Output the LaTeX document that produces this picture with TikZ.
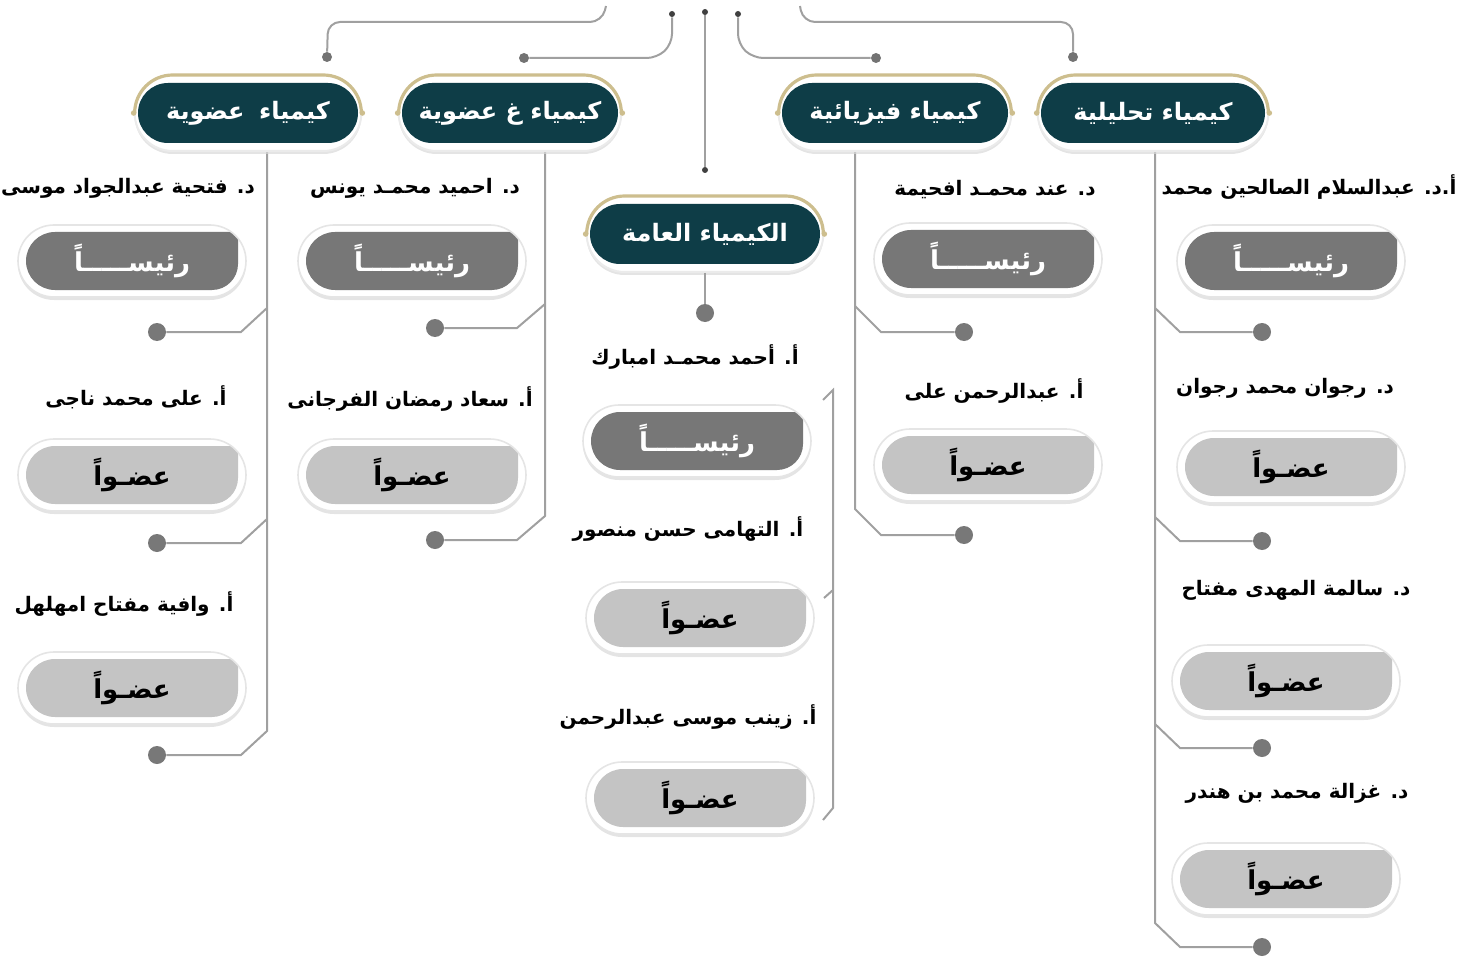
\documentclass[tikz,border=0pt]{standalone}
\usepackage{fontspec}
\usetikzlibrary{shapes.misc,shadows,calc}
\newfontfamily\arabicfont[Script=Arabic]{DejaVu Sans}
\TeXXeTstate=1
\definecolor{tealdark}{HTML}{0E3D47}
\definecolor{chairgray}{HTML}{777777}
\definecolor{membergray}{HTML}{C4C4C4}
\definecolor{wiregray}{HTML}{A0A0A0}
\definecolor{dotgray}{HTML}{787878}
\definecolor{arcgold}{HTML}{CDBE8E}
\newcommand{\artext}[1]{\arabicfont\bfseries\beginR #1\endR}

\begin{document}
\begin{tikzpicture}[x=0.5pt,y=-0.5pt]
        \tikzset{wire/.style={draw=wiregray, line width=1pt},
            bigdot/.style={circle, fill=dotgray, inner sep=0pt, minimum size=9pt},
            middot/.style={circle, fill=black!55, inner sep=0pt, minimum size=5pt},
            tinydot/.style={circle, fill=black!75, inner sep=0pt, minimum size=3pt},
            badgeframe/.style={shape=rounded rectangle, fill=white, draw=black!8, line width=1pt,
                minimum width=#1, minimum height=38pt,
                drop shadow={shadow xshift=0pt, shadow yshift=-1.5pt, fill=black!15, opacity=0.7}},
            badgegold/.style={shape=rounded rectangle, draw=arcgold, line width=1.6pt,
                minimum width=#1, minimum height=38pt},
            badge/.style={shape=rounded rectangle, fill=tealdark, text=white, inner sep=0pt,
                minimum width=#1, minimum height=30pt, font=\fontsize{12}{14}\selectfont},
            person/.style={font=\fontsize{10}{12}\selectfont, inner sep=1pt},
            pill/.style={shape=rounded rectangle, fill=white, draw=black!10, line width=0.8pt,
                minimum width=114pt, minimum height=36pt, inner sep=0pt,
                font=\fontsize{13}{15}\selectfont,
                drop shadow={shadow xshift=0pt, shadow yshift=-1.5pt, fill=black!15, opacity=0.7},
                path picture={
                    \coordinate (pnw) at ($(path picture bounding box.north west)+(4pt,-3.5pt)$);
                    \coordinate (pse) at ($(path picture bounding box.south east)+(-4pt,3.5pt)$);
                    \fill[#1] ($(pnw)+(14.5pt,0)$) -- ($(pnw -| pse)+(-3pt,0)$)
                        arc[start angle=90, end angle=0, radius=3pt] -- ($(pse)+(0,13pt)$)
                        arc[start angle=0, end angle=-90, radius=13pt] -- ($(pse -| pnw)+(14.5pt,0)$)
                        arc[start angle=270, end angle=90, radius=14.5pt] -- cycle;}},
            chair/.style={pill=chairgray, text=white},
            member/.style={pill=membergray, text=black}}
        \useasboundingbox (0,0) rectangle (1461,957);

        % dots
        \foreach \n/\x/\y in {d11/157/332, d12/157/543, d13/157/755, d21/435/328, d22/435/540,
            d31/705/313, d41/964/332, d42/964/535, d51/1262/332, d52/1262/541, d53/1262/748, d54/1262/947}
            \node[bigdot] (\n) at (\x,\y) {};
        \foreach \n/\x/\y in {m1/327/57, m2/524/58, m3/876/58, m4/1073/57}
            \node[middot] (\n) at (\x,\y) {};
        \foreach \n/\x/\y in {t1/672/14, t2/705/12, t3/738/14, t4/705/170}
            \node[tinydot] (\n) at (\x,\y) {};

        % top wires
        \coordinate (topA) at (606,6);
        \coordinate (topD) at (800,6);
        \draw[wire, rounded corners=6pt] (topA) -- (602,22) -- (328,22) -- (m1);
        \draw[wire, rounded corners=5pt] (t1) -- (672,44) -- (657,58) -- (m2);
        \draw[wire] (t2) -- (t4);
        \draw[wire, rounded corners=5pt] (t3) -- (738,44) -- (753,58) -- (m3);
        \draw[wire, rounded corners=6pt] (topD) -- (803,22) -- (1073,22) -- (m4);

        % column wires
        \coordinate (orgtop) at (267,150);
        \coordinate (inorgtop) at (545,150);
        \coordinate (phystop) at (855,150);
        \coordinate (analtop) at (1155,150);
        \draw[wire] (orgtop) -- (267,731) -- (241,755) -- (d13);
        \foreach \y/\d in {332/d11, 543/d12}
            \draw[wire] (267,\y-24) -- (241,\y) -- (\d);
        \draw[wire] (inorgtop) -- (545,516) -- (517,540) -- (d22);
        \draw[wire] (545,304) -- (517,328) -- (d21);
        \draw[wire] (phystop) -- (855,509) -- (881,535) -- (d42);
        \draw[wire] (855,306) -- (881,332) -- (d41);
        \draw[wire] (analtop) -- (1155,923) -- (1180,947) -- (d54);
        \foreach \y/\d in {332/d51, 541/d52, 748/d53}
            \draw[wire] (1155,\y-24) -- (1180,\y) -- (\d);

        % bracket of the general chemistry group
        \coordinate (brtop) at (823,400);
        \coordinate (brbot) at (823,820);
        \coordinate (brtick) at (824,598);
        \draw[wire] (brtop) -- (833,390) -- (833,808) -- (brbot);
        \draw[wire] (833,590) -- (brtick);

        % badges
        \foreach \n/\x/\y/\w/\t in {org/248/113/110/{كيمياء\hspace{0.6em}عضوية},
            inorg/510/113/108/{كيمياء غ عضوية}, phys/895/113/113/{كيمياء فيزيائية},
            anal/1153/113/112/{كيمياء تحليلية}, gen/705/234/115/{الكيمياء العامة}} {
            \pgfmathsetmacro\fw{\w+10}
            \node[badgeframe=\fw pt] (fr\n) at (\x,\y) {};
            \begin{scope}
                \clip ($(fr\n.west)+(-4pt,0)$) rectangle ($(fr\n.east |- fr\n.north)+(4pt,4pt)$);
                \node[badgegold=\fw pt] at (fr\n) {};
            \end{scope}
            \fill[arcgold] (fr\n.west) circle[radius=1.4pt] (fr\n.east) circle[radius=1.4pt];
            \node[badge=\w pt] (\n) at (fr\n) {\artext{\t}};
        }
        \draw[wire] (frgen.south) -- (d31);

        % names
        \foreach \n/\x/\y/\t in {n11/128/188/{د. فتحية عبدالجواد موسى},
            n12/136/397/{أ. على محمد ناجى},
            n13/124/604/{أ. وافية مفتاح امهلهل},
            n21/415/188/{د. احميد محمـد يونس},
            n22/410/399/{أ. سعاد رمضان الفرجانى},
            n31/695/357/{أ. أحمد محمـد امبارك},
            n32/688/529/{أ. التهامى حسن منصور},
            n33/688/717/{أ. زينب موسى عبدالرحمن},
            n41/995/190/{د. عند محمـد افحيمة},
            n42/994/391/{أ. عبدالرحمن على},
            n51/1309/187/{أ.د. عبدالسلام الصالحين محمد},
            n52/1285/388/{د. رجوان محمد رجوان},
            n53/1296/590/{د. سالمة المهدى مفتاح},
            n54/1297/793/{د. غزالة محمد بن هندر}}
            \node[person] (\n) at (\x,\y) {\artext{\t}};

        % roles
        \foreach \n/\x/\y in {p11/132/261, p21/412/261, p31/697/441, p41/988/259, p51/1291/261}
            \node[chair] (\n) at (\x,\y) {\artext{رئيســـــاً}};
        \foreach \n/\x/\y in {p12/132/475, p13/132/688, p22/412/475, p32/700/618, p33/700/798,
            p42/988/465, p52/1291/467, p53/1286/681, p54/1286/879}
            \node[member] (\n) at (\x,\y) {\artext{عضـواً}};
    \end{tikzpicture}
\end{document}
